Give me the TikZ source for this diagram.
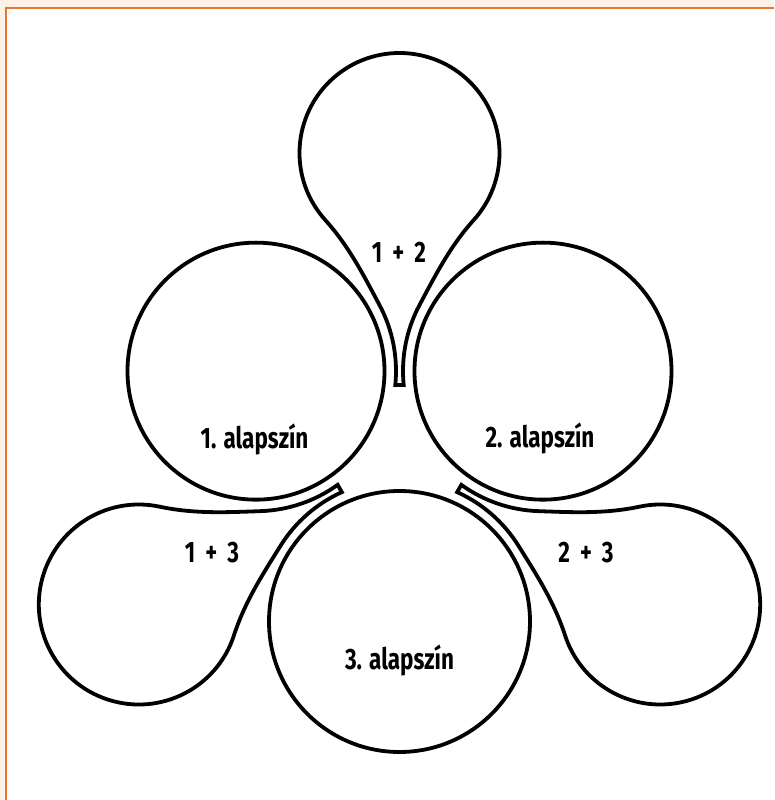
\documentclass[tikz,border=0pt]{standalone}
\usepackage{fontspec}
\setmainfont{Fira Sans}[FakeStretch=0.76]
\usepackage{xcolor}
\definecolor{frameorange}{HTML}{E8762F}
\definecolor{framebg}{HTML}{FDF1E8}

\begin{document}
\begin{tikzpicture}[x=0.025cm, y=0.025cm,
    outline/.style={draw=black, line width=2.7pt},
    lbl/.style={font=\bfseries\fontsize{21}{22}\selectfont, anchor=base, inner sep=0pt},
    mixlbl/.style={lbl, execute at begin node={\spaceskip=0.34em\relax}}]
    % Page, frame on top and left
    \useasboundingbox (-399.5,-346) rectangle (374.5,454);
    \fill[framebg] (-399.5,-346) rectangle (374.5,454);
    \fill[white] (-393.5,-346) rectangle (374.5,446);
    \draw[frameorange, line width=1.8pt] (-393.5,-346) -- (-393.5,446) -- (374.5,446);

    % Base colours: three big circles
    \foreach \a in {30,150}
      \draw[outline] (\a:165.7) circle[radius=128.5];
    \draw[outline] (0,-167.5) circle[radius=130.5];

    % Mixtures: teardrops whose stems hug the two circles
    \foreach \a in {0,120,240} {
      \begin{scope}[rotate=\a]
        \draw[outline] ([shift={(-143.5,83)}]-5.74:140)
          arc[start angle=-5.74, end angle=28, radius=140]
          .. controls +(118:35) and +(-48:35) .. ([shift={(0,301)}]222:100)
          arc[start angle=222, end angle=-42, radius=100]
          .. controls +(-132:35) and +(62:35) .. ([shift={(143.5,83)}]152:140)
          arc[start angle=152, end angle=185.74, radius=140]
          -- cycle;
      \end{scope}
    }

    % Labels
    \node[mixlbl] (l12) at (-0.5,191) {1 + 2};
    \node[lbl] (l1) at (-145,5) {1. alapszín};
    \node[lbl] (l2) at (140.5,6) {2. alapszín};
    \node[lbl] (l3) at (0,-215) {3. alapszín};
    \node[mixlbl] (l13) at (-187.5,-108) {1 + 3};
    \node[mixlbl] (l23) at (186.5,-108) {2 + 3};
\end{tikzpicture}
\end{document}
